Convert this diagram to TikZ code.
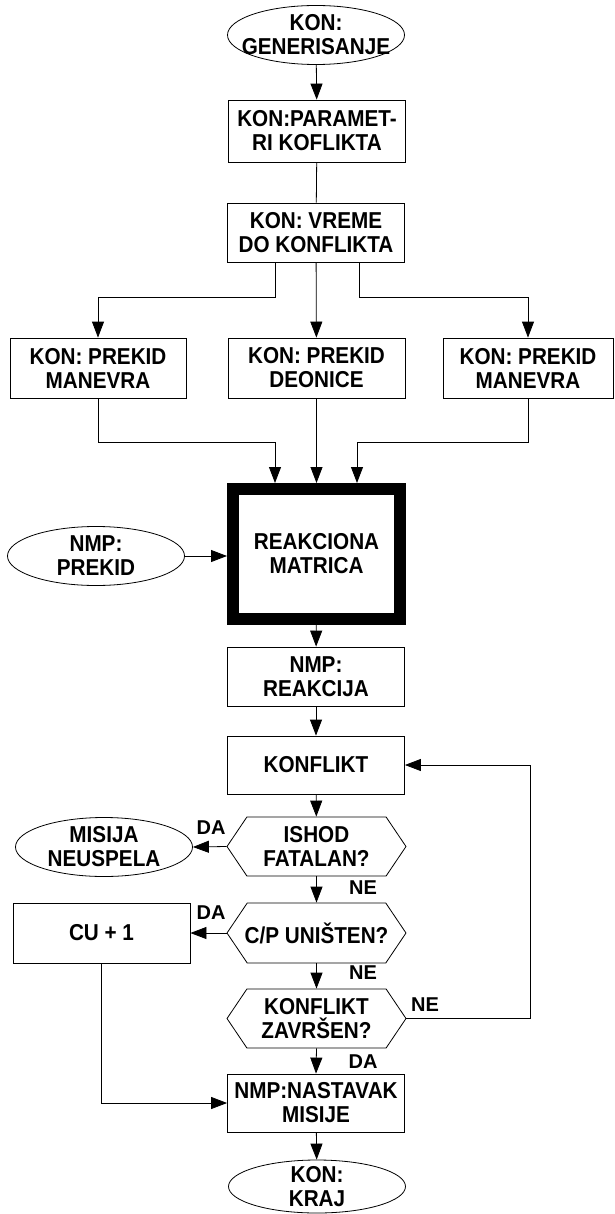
\documentclass[tikz,border=0pt]{standalone}
\usepackage{fontspec}
\setmainfont{Liberation Sans}[FakeStretch=0.9]
\newfontfamily\labfont{Liberation Sans}
\usetikzlibrary{arrows.meta,shapes.geometric,shapes.symbols}
\begin{document}
\begin{tikzpicture}[x=1pt,y=-1pt, font=\bfseries\fontsize{23}{24}\selectfont,
  box/.style={draw, line width=0.8pt, minimum width=177pt, minimum height=59pt, inner sep=1pt, align=center},
  ell/.style={draw, ellipse, line width=0.8pt, minimum width=177pt, minimum height=59pt, inner sep=0pt},
  hexa/.style={draw, signal, signal to=east and west, signal pointer angle=112, line width=0.8pt, minimum width=179pt, minimum height=59pt, inner sep=0pt},
  txt/.style={align=center, inner sep=0pt},
  lab/.style={font=\labfont\bfseries\fontsize{20}{22}\selectfont, inner sep=0pt},
  arr/.style={line width=0.8pt, -{Triangle[length=16pt,width=12pt]}},
  ln/.style={line width=0.8pt}]
\useasboundingbox (0,0) rectangle (615,1214);
\node[ell] (gen) at (316,35) {};
\node[txt] (gent) at (gen) {KON:\\GENERISANJE};
\node[box, minimum height=62pt] (par) at (317,131) {KON:PARAMET-\\RI KOFLIKTA};
\node[box] (vre) at (316,232.5) {KON: VREME\\DO KONFLIKTA};
\node[box, minimum width=176pt, minimum height=60pt] (pm1) at (98,368) {KON: PREKID\\MANEVRA};
\node[box, minimum height=60pt] (pd) at (316.5,368) {KON: PREKID\\DEONICE};
\node[box, minimum width=170pt, minimum height=60pt] (pm2) at (528,368) {KON: PREKID\\MANEVRA};
\node[draw, line width=12pt, minimum width=167pt, minimum height=130pt, align=center] (rm) at (316.5,554) {REAKCIONA\\MATRICA};
\node[ell] (prek) at (96,556) {};
\node[txt] (prekt) at (prek) {NMP:\\PREKID};
\node[box] (rea) at (316,676.5) {NMP:\\REAKCIJA};
\node[box, minimum height=58pt] (kon) at (316,765) {KONFLIKT};
\node[hexa] (h1) at (316.5,846.5) {};
\node[txt] (h1t) at (h1) {ISHOD\\FATALAN?};
\node[ell] (mis) at (104,847) {};
\node[txt] (mist) at (mis) {MISIJA\\NEUSPELA};
\node[hexa, minimum height=60pt] (h2) at (316.5,933) {};
\node[txt] (h2t) at (h2) {C/P UNIŠTEN?};
\node[box, minimum height=60pt] (cu) at (101.5,933) {CU + 1};
\node[hexa] (h3) at (316.5,1018.5) {};
\node[txt] (h3t) at (h3) {KONFLIKT\\ZAVRŠEN?};
\node[box, minimum height=58pt] (nas) at (316,1103) {NMP:NASTAVAK\\MISIJE};
\node[ell, minimum height=53pt] (kraj) at (317,1186.5) {};
\node[txt] (krajt) at (kraj) {KON:\\KRAJ};
\node[lab] (da1) at (211,828) {DA};
\node[lab] (ne1) at (363,888) {NE};
\node[lab] (da2) at (211,913) {DA};
\node[lab] (ne2) at (363,973) {NE};
\node[lab] (ne3) at (425,1005) {NE};
\node[lab] (da3) at (363,1062) {DA};
\coordinate (b1) at (275,297);
\coordinate (b2) at (359,297);
\coordinate (j1) at (275,442);
\coordinate (j2) at (357,442);
\draw[arr] (gen) -- (par);
\draw[ln] (par) -- (vre);
\draw[arr] (vre.south -| b1) -- (b1) -| (pm1.north);
\draw[arr] (vre) -- (pd);
\draw[arr] (vre.south -| b2) -- (b2) -| (pm2.north);
\draw[arr] (pm1.south) |- (j1) -- (j1 |- rm.north);
\draw[arr] (pd) -- (rm);
\draw[arr] (pm2.south) |- (j2) -- (j2 |- rm.north);
\draw[arr] (prek.east) -- (prek.east -| rm.west);
\draw[arr] (rm) -- (rea);
\draw[arr] (rea) -- (kon);
\draw[arr] (kon) -- (h1);
\draw[arr] (h1.west) -- (mis.east);
\draw[arr] (h1.south) -- (h2.north);
\draw[arr] (h2.west) -- (cu.east);
\draw[arr] (h2.south) -- (h3.north);
\draw[arr] (h3.east) -| ([xshift=125pt]kon.east) -- (kon.east);
\draw[arr] (h3.south) -- (nas.north);
\draw[arr] (cu.south) |- (nas.west);
\draw[arr] (nas) -- (kraj);
\end{tikzpicture}
\end{document}
